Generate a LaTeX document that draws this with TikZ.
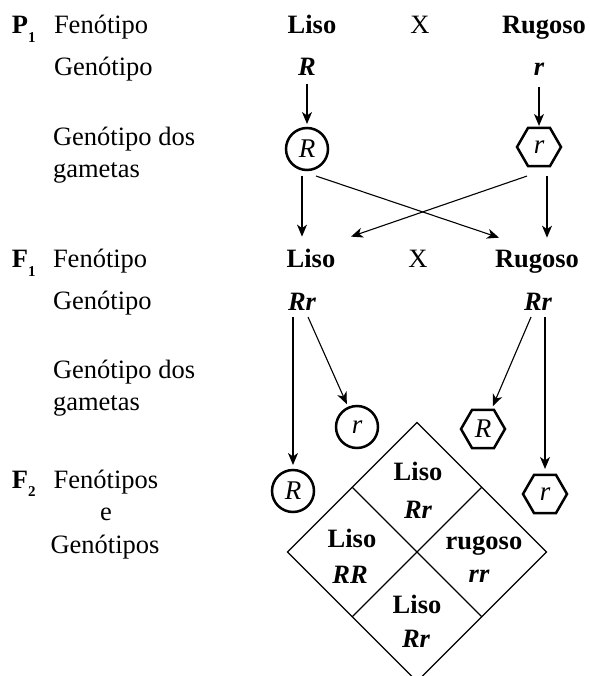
\documentclass[tikz,border=0pt]{standalone}
\usepackage{fontspec}
\setmainfont{Liberation Serif}
\usetikzlibrary{arrows.meta,shapes.geometric,calc}
\newcommand\subsz{\fontsize{15}{15}\selectfont}
\begin{document}
\begin{tikzpicture}[x=1pt,y=-1pt,
  every node/.style={inner sep=0pt,outer sep=0pt,font=\fontsize{26.5}{31}\selectfont},
  lbl/.style={anchor=base west},
  txt/.style={anchor=base},
  bf/.style={anchor=base,font=\fontsize{26.5}{31}\selectfont\bfseries},
  bi/.style={anchor=base,font=\fontsize{26.5}{31}\selectfont\bfseries\itshape},
  gcirc/.style={circle,draw,line width=2.5pt,minimum size=42pt,font=\fontsize{27}{31}\selectfont\itshape},
  ghex/.style={regular polygon,regular polygon sides=6,draw,line width=2.5pt,minimum size=44pt,font=\fontsize{27}{31}\selectfont\itshape},
  arr/.style={draw,line width=1.1pt,-{Stealth[length=12pt,width=10pt,inset=3.5pt]}},
  ln/.style={draw,line width=1.1pt}
]
\useasboundingbox (0,0) rectangle (589,676);
\fill[white] (0,0) rectangle (589,676);
\begin{scope}
\clip (0,0) rectangle (589,676);
% P1
\node[lbl] (p1lab) at (12,34) {\bfseries P\raisebox{-9pt}{\subsz 1}};
\node[lbl] (p1fen) at (54,34) {Fenótipo};
\node[bf] (p1liso) at (312,34) {Liso};
\node[txt] (p1x) at (420,34) {X};
\node[bf] (p1rug) at (544,34) {Rugoso};
\node[lbl] (p1gen) at (54,76) {Genótipo};
\node[bi] (p1R) at (307,76) {R};
\node[bi] (p1r) at (539,76) {r};
\node[lbl] (p1gA) at (53,146) {Genótipo dos};
\node[lbl] (p1gB) at (53,178) {gametas};
\node[gcirc] (g1R) at (307,149) {R};
\node[ghex] (g1r) at (539,147) {r};
% F1
\node[lbl] (f1lab) at (12,267) {\bfseries F\raisebox{-9pt}{\subsz 1}};
\node[lbl] (f1fen) at (53,267) {Fenótipo};
\node[bf] (f1liso) at (311,267) {Liso};
\node[txt] (f1x) at (418,267) {X};
\node[bf] (f1rug) at (537,267) {Rugoso};
\node[lbl] (f1gen) at (53,309) {Genótipo};
\node[bi] (f1Rr1) at (302,310) {Rr};
\node[bi] (f1Rr2) at (538,310) {Rr};
\node[lbl] (f1gA) at (53,378) {Genótipo dos};
\node[lbl] (f1gB) at (53,410) {gametas};
\node[gcirc] (g2R) at (293,491) {R};
\node[gcirc] (g2r) at (357,427) {r};
\node[ghex] (g2Rh) at (483,429) {R};
\node[ghex] (g2rh) at (545,494) {r};
% P1 arrows
\draw[arr,shorten <=8pt,shorten >=4pt] (p1R.south) -- (g1R.north);
\draw[arr,shorten <=11pt,shorten >=2pt] (p1r.south) -- (g1r.north);
\draw[arr,shorten >=12pt] ([shift={(-5pt,-6pt)}]g1R.south) -- ([xshift=-5pt]g1R.south |- f1liso.north);
\draw[arr] ([shift={(9pt,-6pt)}]g1R.south) -- ([shift={(-38pt,12pt)}]f1rug.north);
\draw[arr] ([shift={(-12pt,-10pt)}]g1r.south) -- ([shift={(40pt,12pt)}]f1liso.north);
\draw[arr] ([shift={(8pt,-10pt)}]g1r.south) -- ([shift={(10pt,12pt)}]f1rug.north);
% F1 arrows
\draw[arr,shorten >=5pt] ([shift={(-9pt,-7pt)}]f1Rr1.base) -- (g2R.north);
\draw[arr,shorten >=4pt] ([shift={(6pt,-7pt)}]f1Rr1.base) -- (g2r);
\draw[arr,shorten >=4pt] ([shift={(-7pt,-7pt)}]f1Rr2.base) -- (g2Rh);
\draw[arr,shorten >=6pt] ([shift={(7pt,-7pt)}]f1Rr2.base) -- (g2rh.north);
% F2
\node[lbl] (f2lab) at (12,488) {\bfseries F\raisebox{-8pt}{\subsz 2}};
\node[txt] (f2fen) at (106,488) {Fenótipos};
\node[txt] (f2e) at (106,520) {e};
\node[txt] (f2gen) at (105,553) {Genótipos};
% Punnett square
\node[diamond,draw,line width=1.1pt,minimum width=259pt,minimum height=259pt] (sq) at (417,552) {};
\draw[ln] ($(sq.north)!0.5!(sq.west)$) -- ($(sq.south)!0.5!(sq.east)$);
\draw[ln] ($(sq.north)!0.5!(sq.east)$) -- ($(sq.south)!0.5!(sq.west)$);
\node[bf] (c1a) at (418,480) {Liso};
\node[bi] (c1b) at (418,518) {Rr};
\node[bf] (c2a) at (352,547) {Liso};
\node[bi] (c2b) at (350,583) {RR};
\node[bf] (c3a) at (484,549) {rugoso};
\node[bi] (c3b) at (479,582) {rr};
\node[bf] (c4a) at (417,613) {Liso};
\node[bi] (c4b) at (416,647) {Rr};
\end{scope}
\end{tikzpicture}
\end{document}
